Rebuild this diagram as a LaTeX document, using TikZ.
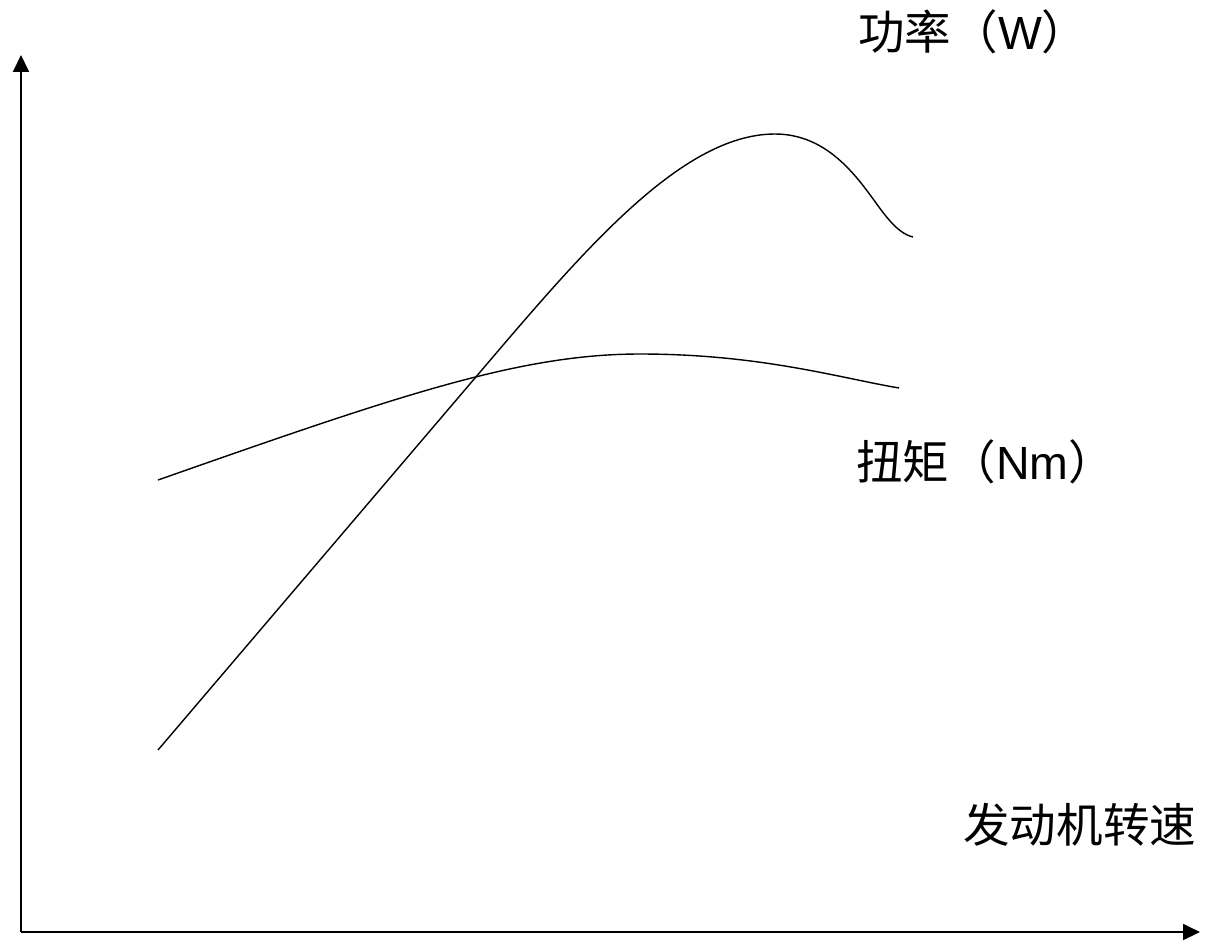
\documentclass[tikz,border=0pt]{standalone}
\usepackage{fontspec}
\setmainfont{Liberation Sans}
\newfontfamily\cjk{Noto Sans CJK SC}
\usetikzlibrary{arrows.meta,positioning}

\begin{document}
\begin{tikzpicture}[
    x = 0.02cm, y = -0.02cm, % pixel grid, y downwards
    > = {Triangle[length=0.34cm,width=0.32cm]}, % arrow head style
    axis/.style = {line width=1.1pt, ->},
    curve/.style = {line width=0.8pt},
    label/.style = {font=\fontsize{26.5}{30}\selectfont, inner sep=0pt}
    ]

    \useasboundingbox (0,0) rectangle (1207,940);

    \coordinate (o) at (21,932);
    \coordinate (ytop) at (21,55);
    \coordinate (xend) at (1200,932);
    \draw[axis] (o) -- (ytop);
    \draw[axis] (o) -- (xend);

    % power
    \draw[curve] (158,750) -- (475,378)
        .. controls (580,255) and (680,134) .. (775,134)
        .. controls (835,134) and (865,190) .. (885,215)
        .. controls (897,230) and (905,235) .. (913,237);
    % torque
    \draw[curve] (158,480) .. controls (400,395) and (520,354) .. (640,354)
        .. controls (760,354) and (840,378) .. (899,388);

    \node[label, anchor=west] (power) at (858,32) {\cjk 功率（\normalfont W\cjk ）};
    \node[label, anchor=west] (torque) at (856,462) {\cjk 扭矩（\normalfont Nm\cjk ）};
    \node[label, anchor=west] (speed) at (963,825) {\cjk 发动机转速};
\end{tikzpicture}
\end{document}
